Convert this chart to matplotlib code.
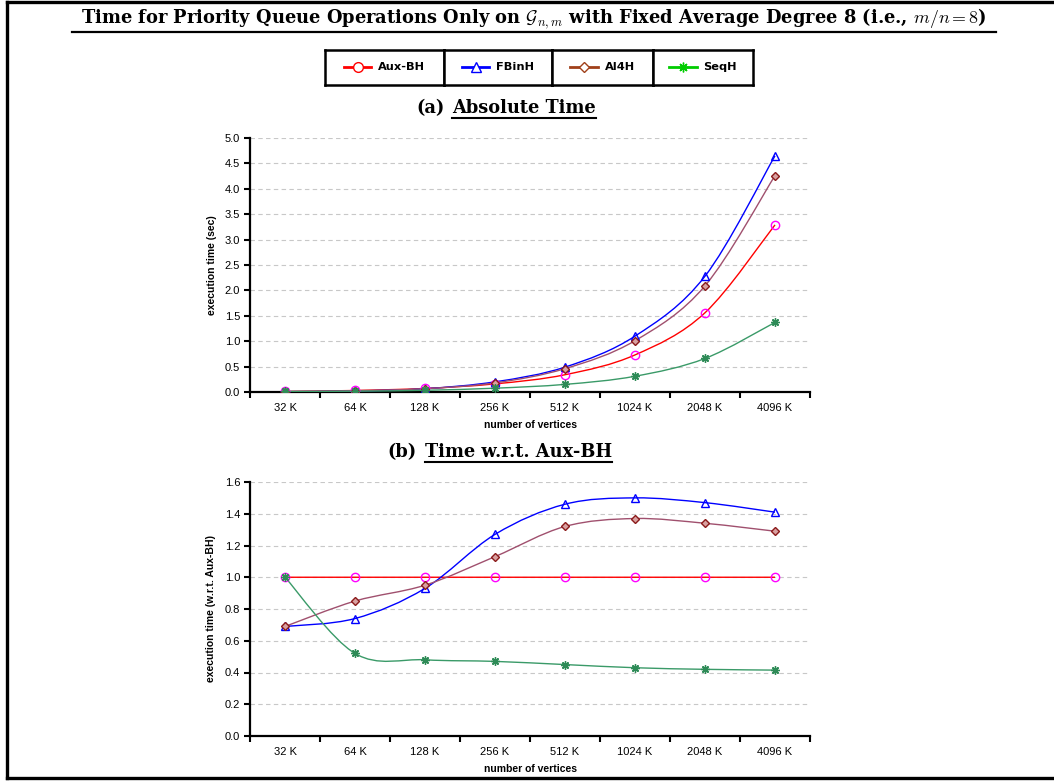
import numpy as np
import matplotlib
matplotlib.use("Agg")
import matplotlib.pyplot as plt
from matplotlib.path import Path
from matplotlib.patches import PathPatch
from matplotlib.lines import Line2D

plt.rcParams['mathtext.fontset'] = 'cm'
plt.rcParams['font.family'] = ['Liberation Sans', 'DejaVu Sans']

sizes = ['32 K', '64 K', '128 K', '256 K', '512 K', '1024 K', '2048 K', '4096 K']
names = ['Aux-BH', 'FBinH', 'Al4H', 'SeqH']

# absolute time (sec)
abs_aux = [0.01, 0.03, 0.07, 0.16, 0.34, 0.73, 1.56, 3.29]
abs_fbin = [0.007, 0.02, 0.065, 0.20, 0.49, 1.10, 2.28, 4.65]
abs_al4 = [0.007, 0.025, 0.066, 0.18, 0.46, 1.01, 2.09, 4.26]
abs_seq = [0.01, 0.016, 0.034, 0.075, 0.15, 0.31, 0.66, 1.37]

# time relative to Aux-BH
rel_aux = [1.0, 1.0, 1.0, 1.0, 1.0, 1.0, 1.0, 1.0]
rel_fbin = [0.69, 0.74, 0.93, 1.27, 1.46, 1.50, 1.47, 1.41]
rel_al4 = [0.69, 0.85, 0.95, 1.13, 1.32, 1.37, 1.34, 1.29]
rel_seq = [1.0, 0.52, 0.48, 0.47, 0.45, 0.43, 0.42, 0.415]

# (line colour, marker, marker edge, marker face)
plot_style = {
    'Aux-BH': ('#ff0000', 'o', '#ff00ff', 'none'),
    'FBinH': ('#0000ff', '^', '#0000ff', 'none'),
    'Al4H': ('#a0506e', 'D', '#8b1a1a', '#d8a0a0'),
    'SeqH': ('#3a9a68', (8, 2, 0), '#2e8b57', 'none'),
}
legend_style = {
    'Aux-BH': ('#ff0000', 'o'),
    'FBinH': ('#0000ff', '^'),
    'Al4H': ('#a0401a', 'D'),
    'SeqH': ('#00cc00', (8, 2, 0)),
}

serif = {'family': ['DejaVu Serif'], 'weight': 'bold'}


def smooth_path(x, y):
    # Catmull-Rom style cubic Bezier through the points
    pts = np.column_stack([x, y]).astype(float)
    n = len(pts)
    verts = [pts[0]]
    codes = [Path.MOVETO]
    for i in range(n - 1):
        p0 = pts[max(i - 1, 0)]
        p1 = pts[i]
        p2 = pts[i + 1]
        p3 = pts[min(i + 2, n - 1)]
        verts += [p1 + (p2 - p0) / 6, p2 - (p3 - p1) / 6, p2]
        codes += [Path.CURVE4] * 3
    return Path(verts, codes)


def draw_panel(ax, series, ymax, ystep, ylabel):
    x = np.arange(len(sizes))
    for name, vals in zip(names, series):
        lc, mk, me, mf = plot_style[name]
        ax.add_patch(PathPatch(smooth_path(x, vals), fill=False,
                               edgecolor=lc, lw=1.0, zorder=3))
        ms = 6 if mk != 'D' else 4.4
        ax.plot(x, vals, ls='none', marker=mk, ms=ms, mec=me, mfc=mf,
                mew=1.0, zorder=4)
    ax.set_xlim(-0.5, len(sizes) - 0.5)
    ax.set_ylim(0, ymax)
    ax.set_yticks(np.arange(0, ymax + ystep / 2, ystep))
    ax.yaxis.set_major_formatter(plt.FormatStrFormatter('%.1f'))
    ax.set_xticks(x)
    ax.set_xticklabels(sizes)
    ax.set_xticks(np.arange(-0.5, len(sizes)), minor=True)
    ax.tick_params(axis='x', which='major', length=0, pad=8, labelsize=8)
    ax.tick_params(axis='x', which='minor', length=4, width=1.5, direction='out')
    ax.tick_params(axis='y', length=4, width=1.5, direction='out', labelsize=8, pad=3)
    for s in ['top', 'right']:
        ax.spines[s].set_visible(False)
    for s in ['left', 'bottom']:
        ax.spines[s].set_linewidth(1.6)
    ax.grid(axis='y', color='#c8c8c8', ls=(0, (4, 3)), lw=0.8)
    ax.set_axisbelow(True)
    ax.set_ylabel(ylabel, fontsize=7.5, fontweight='bold', labelpad=6)
    ax.set_xlabel('number of vertices', fontsize=7.5, fontweight='bold', labelpad=5)


W, H = 1054, 781
fig = plt.figure(figsize=(W / 100, H / 100), dpi=100)


def fx(px):
    return px / W


def fy(py):
    return 1 - py / H


ax1 = fig.add_axes([fx(250), fy(392), fx(560), fy(138) - fy(392)])
draw_panel(ax1, [abs_aux, abs_fbin, abs_al4, abs_seq], 5.0, 0.5,
           'execution time (sec)')
ax2 = fig.add_axes([fx(250), fy(736), fx(560), fy(482) - fy(736)])
draw_panel(ax2, [rel_aux, rel_fbin, rel_al4, rel_seq], 1.6, 0.2,
           'execution time (w.r.t. Aux-BH)')

# outer frame
fig.add_artist(Line2D([fx(7), fx(7)], [fy(2), fy(778)], color='black', lw=2.4))
fig.add_artist(Line2D([fx(7), 1], [fy(2), fy(2)], color='black', lw=2.4))
fig.add_artist(Line2D([fx(7), 1], [fy(778), fy(778)], color='black', lw=2.4))

# main title
fig.text(fx(534), fy(19),
         r'Time for Priority Queue Operations Only on $\mathcal{G}_{n,m}$'
         r' with Fixed Average Degree 8 (i.e., $m/n=8$)',
         ha='center', va='center', fontsize=12.9, **serif)
fig.add_artist(Line2D([fx(72), fx(996)], [fy(32), fy(32)], color='black', lw=1.6))

# legend cells
cells = [325, 444, 552, 653, 753]
for i, name in enumerate(names):
    cax = fig.add_axes([fx(cells[i]), fy(85), fx(cells[i + 1] - cells[i]), fy(50) - fy(85)])
    cax.set_xticks([])
    cax.set_yticks([])
    for s in cax.spines.values():
        s.set_linewidth(1.8)
    lc, mk = legend_style[name]
    h = Line2D([], [], color=lc, lw=2.0, marker=mk, ms=7 if mk != 'D' else 5.5,
               mec=lc, mfc='white' if mk != (8, 2, 0) else lc, mew=1.0)
    cax.legend([h], [name], loc='center', frameon=False, handlelength=2.4,
               handletextpad=0.6, prop={'family': 'DejaVu Sans', 'weight': 'bold', 'size': 8.2})

# panel subtitles with underlined part
subs = [(445, 452, 108, '(a)', 'Absolute Time'),
        (417, 425, 452, '(b)', 'Time w.r.t. Aux-BH')]
under = []
for xr, xl, yc, pre, body in subs:
    fig.text(fx(xr), fy(yc), pre, ha='right', va='center', fontsize=12.8, **serif)
    t = fig.text(fx(xl), fy(yc), body, ha='left', va='center', fontsize=12.8, **serif)
    under.append(t)

fig.canvas.draw()
for t in under:
    bb = t.get_window_extent()
    y = bb.y0 - 1
    fig.add_artist(Line2D([bb.x0 / W, bb.x1 / W], [y / H, y / H], color='black', lw=1.5))

fig.savefig('out.png', dpi=100)
